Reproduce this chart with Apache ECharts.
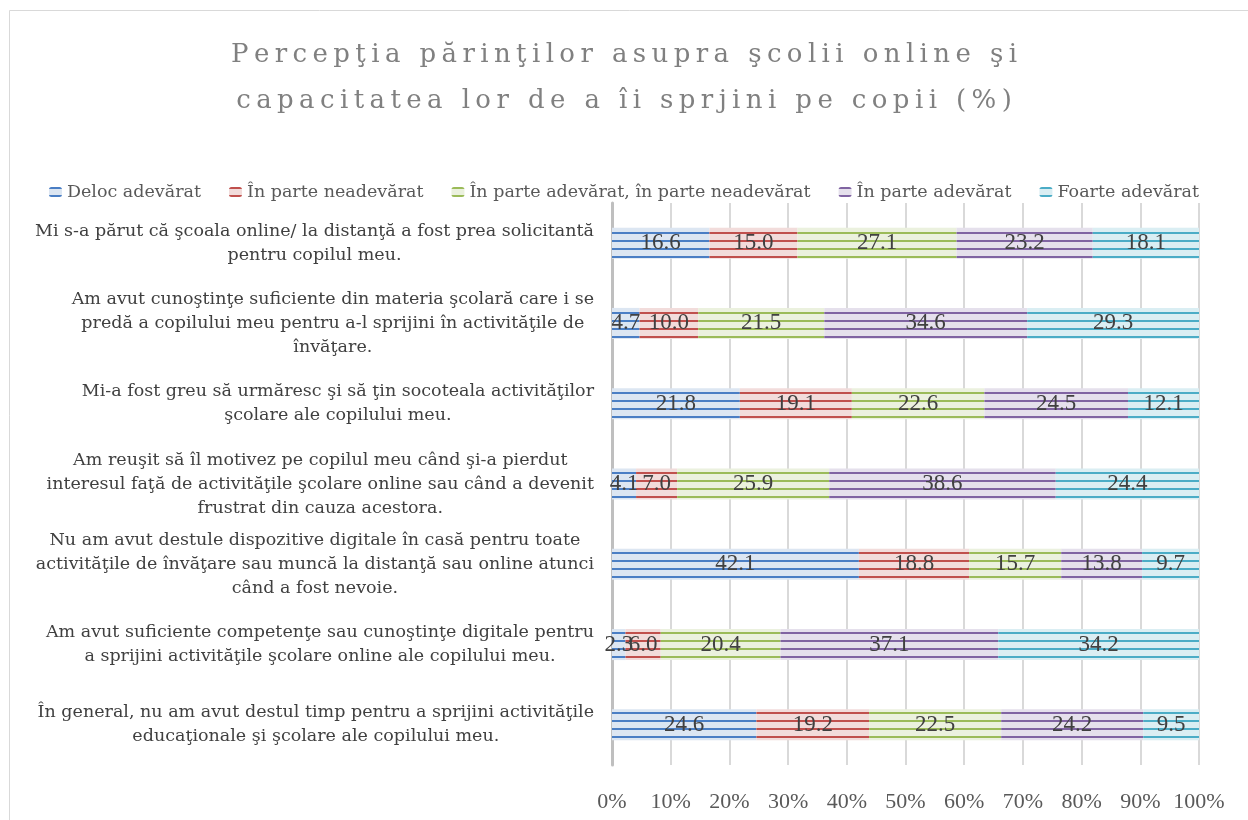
<!DOCTYPE html>
<html>
<head>
<meta charset="utf-8">
<title>Percepţia părinţilor asupra şcolii online</title>
<script src="https://cdn.jsdelivr.net/npm/echarts@6/dist/echarts.min.js"></script>
<style>
  html, body { margin: 0; padding: 0; background: #fff; }
  #main { width: 1248px; height: 820px; }
</style>
</head>
<body>
<div id="main"></div>
<script type="text/javascript">
	// categorii (de sus in jos)
	var categories = [
		'Mi s-a părut că şcoala online/ la distanţă a fost prea solicitantă\npentru copilul meu.',
		'Am avut cunoştinţe suficiente din materia şcolară care i se\npredă a copilului meu pentru a-l sprijini în activităţile de\nînvăţare.',
		'Mi-a fost greu să urmăresc şi să ţin socoteala activităţilor\nşcolare ale copilului meu.',
		'Am reuşit să îl motivez pe copilul meu când şi-a pierdut\ninteresul faţă de activităţile şcolare online sau când a devenit\nfrustrat din cauza acestora.',
		'Nu am avut destule dispozitive digitale în casă pentru toate\nactivităţile de învăţare sau muncă la distanţă sau online atunci\ncând a fost nevoie.',
		'Am avut suficiente competenţe sau cunoştinţe digitale pentru\na sprijini activităţile şcolare online ale copilului meu.',
		'În general, nu am avut destul timp pentru a sprijini activităţile\neducaţionale şi şcolare ale copilului meu.'
	];

	var seriesNames = [
		'Deloc adevărat',
		'În parte neadevărat',
		'În parte adevărat, în parte neadevărat',
		'În parte adevărat',
		'Foarte adevărat'
	];

	// valori (%)
	var deloc = [16.6, 4.7, 21.8, 4.1, 42.1, 2.3, 24.6];
	var parteNeadevarat = [15.0, 10.0, 19.1, 7.0, 18.8, 6.0, 19.2];
	var parteMixt = [27.1, 21.5, 22.6, 25.9, 15.7, 20.4, 22.5];
	var parteAdevarat = [23.2, 34.6, 24.5, 38.6, 13.8, 37.1, 24.2];
	var foarte = [18.1, 29.3, 12.1, 24.4, 9.7, 34.2, 9.5];

	var allValues = [deloc, parteNeadevarat, parteMixt, parteAdevarat, foarte];

	var titleText = 'Percepţia părinţilor asupra şcolii online şi\ncapacitatea lor de a îi sprjini pe copii (%)';

	// culori: linie + fundal deschis
	var lineColors = ['#4A7EC4', '#C0504D', '#9BBB59', '#8064A2', '#4BACC6'];
	var fillColors = ['#DCE6F2', '#F2DCDB', '#EBF1DE', '#E5E0EC', '#DAEEF3'];

	// model cu dungi orizontale
	function stripes(line, fill) {
		var c = document.createElement('canvas');
		c.width = 8;
		c.height = 8;
		var ctx = c.getContext('2d');
		ctx.fillStyle = fill;
		ctx.fillRect(0, 0, 8, 8);
		ctx.fillStyle = line;
		ctx.fillRect(0, 0, 8, 2);
		return { image: c, repeat: 'repeat' };
	}

	// spatiere intre litere pentru titlu (fiecare caracter ca token rich)
	function spaced(text) {
		return text.split('\n').map(function (l) {
			return l.split('').map(function (ch) { return '{s|' + ch + '}'; }).join('');
		}).join('\n');
	}

	// procent stivuit (normalizat pe rand)
	var sums = categories.map(function (c, i) {
		var s = 0;
		allValues.forEach(function (arr) { s += arr[i]; });
		return s;
	});

	var series = seriesNames.map(function (name, k) {
		return {
			name: name,
			type: 'bar',
			stack: 'total',
			barWidth: 31,
			itemStyle: { color: stripes(lineColors[k], fillColors[k]) },
			label: {
				show: true,
				position: 'inside',
				color: '#404040',
				fontFamily: 'Liberation Serif',
				fontSize: 23,
				formatter: function (p) { return p.data.raw.toFixed(1); }
			},
			data: allValues[k].map(function (v, i) {
				return { value: v / sums[i] * 100, raw: v };
			})
		};
	});

	var myChart = echarts.init(document.getElementById('main'));

	var option = {
		backgroundColor: '#fff',
		animation: false,
		title: {
			text: spaced(titleText),
			left: 'center',
			top: 27,
			padding: [5, 5, 5, 21],
			textStyle: {
				fontFamily: 'DejaVu Serif',
				fontWeight: 'normal',
				fontSize: 26,
				lineHeight: 46,
				color: '#808080',
				rich: {
					s: {
						fontFamily: 'DejaVu Serif',
						fontSize: 26,
						lineHeight: 46,
						color: '#808080',
						padding: [0, 2.7, 0, 2.7]
					}
				}
			}
		},
		legend: {
			top: 178,
			left: 'center',
			padding: [5, 5, 5, 15],
			itemWidth: 13,
			itemHeight: 10,
			itemGap: 28,
			textStyle: {
				fontFamily: 'DejaVu Serif',
				fontSize: 17.5,
				color: '#595959'
			},
			data: seriesNames
		},
		grid: {
			left: 612,
			right: 49,
			top: 203,
			bottom: 55
		},
		xAxis: {
			type: 'value',
			min: 0,
			max: 100,
			interval: 10,
			axisLine: { show: false },
			axisTick: { show: false },
			splitLine: { lineStyle: { color: '#D9D9D9', width: 2 } },
			axisLabel: {
				margin: 26,
				fontFamily: 'Liberation Serif',
				fontSize: 22,
				color: '#595959',
				formatter: '{value}%'
			}
		},
		yAxis: {
			type: 'category',
			inverse: true,
			data: categories,
			axisTick: { show: false },
			axisLine: { lineStyle: { color: '#BFBFBF', width: 3 } },
			axisLabel: {
				margin: 18,
				align: 'right',
				formatter: function (v) {
					return v.split('\n').map(function (l) { return '{c|' + l + '}'; }).join('\n');
				},
				rich: {
					c: {
						align: 'center',
						fontFamily: 'DejaVu Serif',
						fontSize: 17.5,
						lineHeight: 24,
						color: '#404040'
					}
				}
			}
		},
		graphic: [{
			type: 'rect',
			shape: { x: 9.5, y: 10.5, width: 1260, height: 830 },
			style: { fill: 'none', stroke: '#D9D9D9', lineWidth: 1 },
			silent: true
		}],
		series: series
	};

	myChart.setOption(option);
</script>
</body>
</html>
